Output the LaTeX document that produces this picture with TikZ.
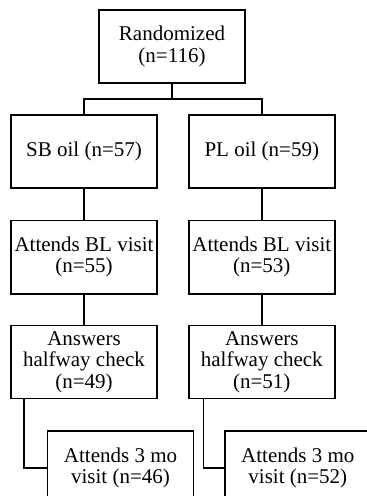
\documentclass[tikz,border=0pt]{standalone}
\usepackage{fontspec}
\setmainfont{Liberation Serif}
\usetikzlibrary{positioning}

\begin{document}
\begin{tikzpicture}[x=0.5pt, y=-0.5pt,
  flowbox/.style={draw, line width=0.9pt, minimum width=73pt, minimum height=36.5pt, inner sep=0pt, align=center, font=\fontsize{10.5}{10.75}\selectfont},
  link/.style={line width=0.9pt}]
\useasboundingbox (0,0) rectangle (367,496);
\clip (0,0) rectangle (367,496);
\node[flowbox] (rand) at (172,46.5) {Randomized\\(n=116)};
\coordinate[below=7.5pt of rand] (split);
\node[flowbox, below=15pt of rand, xshift=-44pt] (sb) {SB oil (n=57)};
\node[flowbox, right=15pt of sb] (pl) {PL oil (n=59)};
\node[flowbox, below=15.5pt of sb] (bl1) {Attends BL visit\\(n=55)};
\node[flowbox, below=15.5pt of pl] (bl2) {Attends BL visit\\(n=53)};
\node[flowbox, below=15pt of bl1] (hw1) {Answers\\halfway check\\(n=49)};
\node[flowbox, below=15pt of bl2] (hw2) {Answers\\halfway check\\(n=51)};
\node[flowbox, below=15.5pt of hw1, xshift=18.25pt] (mo1) {Attends 3 mo\\visit (n=46)};
\node[flowbox, below=15.5pt of hw2, xshift=18pt] (mo2) {Attends 3 mo\\visit (n=52)};
\draw[link] (rand) -- (split);
\draw[link] (sb) |- (split) -| (pl);
\draw[link] (sb) -- (bl1);
\draw[link] (pl) -- (bl2);
\draw[link] (bl1) -- (hw1);
\draw[link] (bl2) -- (hw2);
\draw[link] ([xshift=7pt]hw1.south west) |- (mo1.west);
\draw[link] ([xshift=7.8pt]hw2.south west) |- (mo2.west);
\end{tikzpicture}
\end{document}
